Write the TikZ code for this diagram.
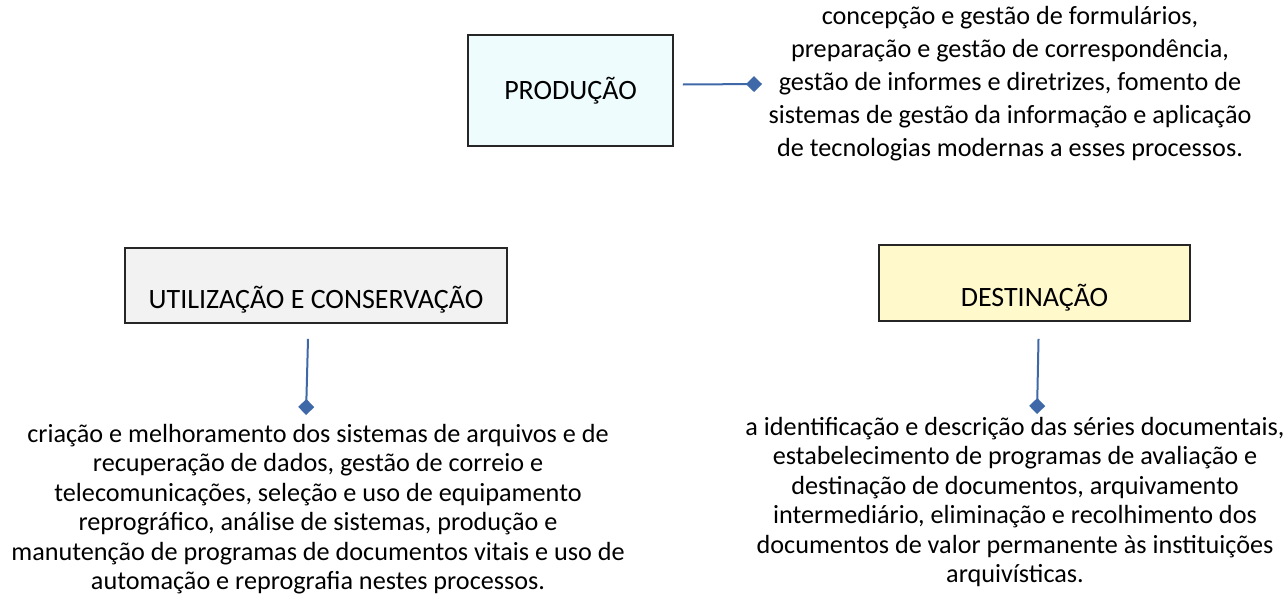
\documentclass[tikz,border=0pt]{standalone}
\usepackage{fontspec}
\setmainfont{Carlito}
\usepackage{tikz}
\usetikzlibrary{arrows.meta,positioning}
\definecolor{linkblue}{RGB}{62,104,168}
\definecolor{prodfill}{RGB}{238,252,253}
\definecolor{utilfill}{RGB}{242,242,242}
\definecolor{destfill}{RGB}{255,249,204}
\tikzset{ % box and line styles
    box/.style={rectangle, draw=black!85, line width=0.8pt, inner sep=0pt, font=\fontsize{14}{16}\selectfont},
    lowbox/.style={box, text depth=7.5pt},
    desc/.style={align=center, inner sep=0pt, font=\fontsize{13.1}{16.5}\selectfont},
    line/.style={draw=linkblue, line width=1pt, -{Diamond[length=8pt,width=8pt,fill=linkblue]}}
}
\begin{document}
\begin{tikzpicture}[x=0.5pt, y=-0.5pt]
	\useasboundingbox (0,0) rectangle (1288,594);
	%Nodes
	\node[box, fill=prodfill, minimum width=102.5pt, minimum height=55.5pt] (prod) at (570.5,90.5) {PRODUÇÃO};
	\node[lowbox, fill=utilfill, minimum width=191pt, text height=30pt] (util) at (316,285.5) {UTILIZAÇÃO E CONSERVAÇÃO};
	\node[lowbox, fill=destfill, minimum width=155.5pt, text height=30.5pt] (dest) at (1034.5,283) {DESTINAÇÃO};
	\node[desc] (prodtxt) at (1010,84) {concepção e gestão de formulários,\\ preparação e gestão de correspondência,\\ gestão de informes e diretrizes, fomento de\\ sistemas de gestão da informação e aplicação\\ de tecnologias modernas a esses processos.};
	\node[desc, font=\fontsize{13.1}{14.75}\selectfont] (utiltxt) at (318,509) {criação e melhoramento dos sistemas de arquivos e de\\ recuperação de dados, gestão de correio e\\ telecomunicações, seleção e uso de equipamento\\ reprográfico, análise de sistemas, produção e\\ manutenção de programas de documentos vitais e uso de\\ automação e reprografia nestes processos.};
	\node[desc, font=\fontsize{13.1}{14.75}\selectfont] (desttxt) at (1015,502) {a identificação e descrição das séries documentais,\\ estabelecimento de programas de avaliação e\\ destinação de documentos, arquivamento\\ intermediário, eliminação e recolhimento dos\\ documentos de valor permanente às instituições\\ arquivísticas.};
	\coordinate (prodend) at (762,84);
	\coordinate (utilend) at (306,415);
	\coordinate (destend) at (1037,414);
	%Edges
	\draw [line] ([xshift=4.5pt,yshift=3pt]prod.east) -- (prodend);
	\draw [line] ([xshift=-4pt,yshift=-7.5pt]util.south) -- (utilend);
	\draw [line] ([xshift=2pt,yshift=-8.5pt]dest.south) -- (destend);
\end{tikzpicture}
\end{document}
